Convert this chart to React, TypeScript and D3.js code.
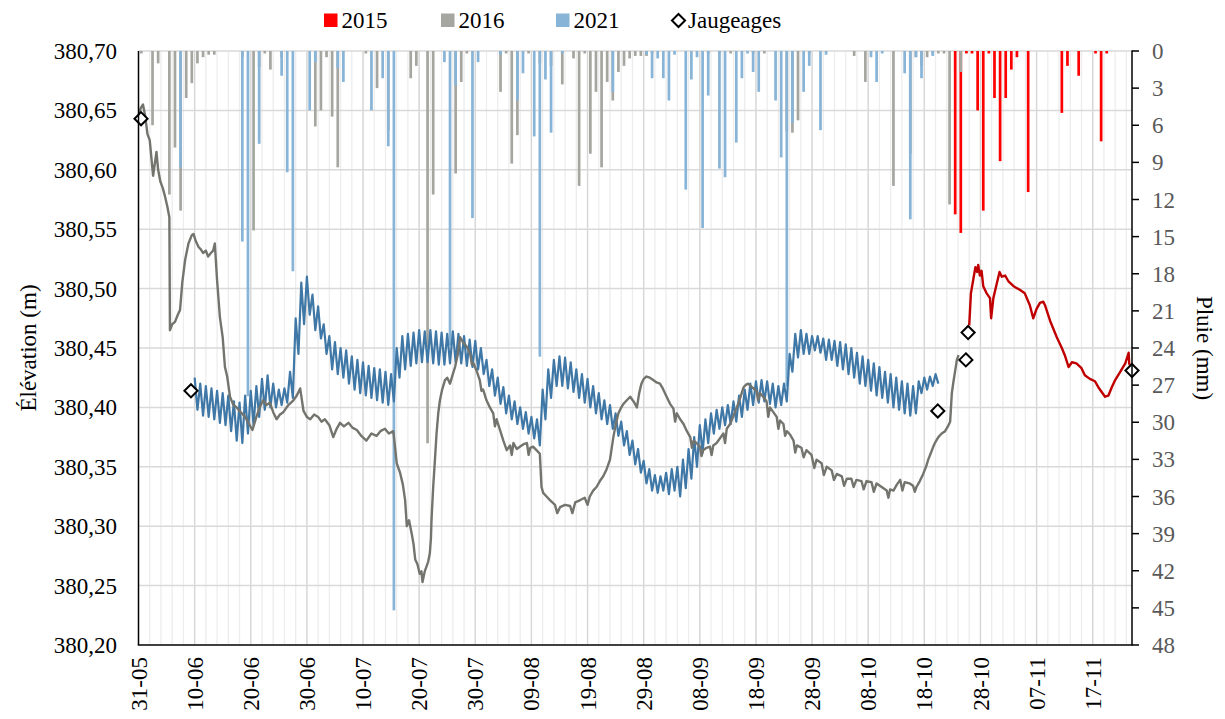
import React, { useEffect, useRef } from 'react';
import * as d3 from 'd3';

const W = 1225;
const H = 719;
const FONT = "'Liberation Serif', 'Times New Roman', serif";

// x axis = days since 31-05
const dayTicks = [0, 10, 20, 30, 40, 50, 60, 70, 80, 90, 100, 110, 120, 130, 140, 150, 160, 170];
const tickLabels = ['31-05', '10-06', '20-06', '30-06', '10-07', '20-07', '30-07', '09-08', '19-08',
  '29-08', '08-09', '18-09', '28-09', '08-10', '18-10', '28-10', '07-11', '17-11'];
const elevTicks = [380.2, 380.25, 380.3, 380.35, 380.4, 380.45, 380.5, 380.55, 380.6, 380.65, 380.7];
const rainTicks = [0, 3, 6, 9, 12, 15, 18, 21, 24, 27, 30, 33, 36, 39, 42, 45, 48];

// daily rain [day, mm]
const rain2015: [number, number][] = [
  [145, 13.2], [146, 14.7], [147, 0.2], [148, 0.2], [149, 4.8], [150, 12.9], [151, 0.2], [152, 3.8],
  [153, 8.9], [154, 3.8], [155, 1.5], [156, 0.5], [158, 11.4], [164, 5.0], [165, 1.2], [167, 2.0],
  [170, 0.2], [171, 7.3], [172, 0.2],
];
const rain2016: [number, number][] = [
  [0, 0.2], [2, 6.0], [3, 1.0], [5, 11.6], [6, 7.8], [7, 12.9], [8, 3.8], [9, 2.6], [10, 1.0], [11, 0.5],
  [12, 0.3], [13, 0.3], [18, 0.5], [20, 14.5], [21, 1.3], [22, 0.2], [23, 1.5], [25, 0.5],
  [31, 6.1], [32, 4.8], [33, 0.5], [34, 5.3], [35, 9.4], [40, 0.2], [42, 3.0], [44, 6.4], [48, 2.2],
  [49, 1.2], [51, 31.7], [52, 11.6], [56, 9.9], [57, 2.5], [58, 0.2], [64, 3.3], [65, 0.2], [66, 9.1],
  [67, 6.8], [69, 0.2], [71, 1.0], [73, 1.2], [75, 2.7], [77, 0.6], [78, 10.9], [79, 0.2], [80, 8.3],
  [81, 3.3], [82, 9.4], [83, 2.5], [84, 4.0], [85, 1.7], [86, 1.2], [87, 0.6], [88, 0.4], [89, 0.4],
  [90, 0.4], [91, 0.2], [101, 0.2], [103, 0.2], [105, 0.2], [109, 0.2], [111, 0.2], [115, 6.5],
  [116, 6.6], [117, 5.6], [119, 0.2], [127, 0.4], [129, 2.5], [134, 10.9], [137, 8.3], [138, 0.5],
  [139, 1.2], [140, 0.5], [141, 0.2], [142, 0.2], [143, 0.2], [144, 12.4], [146, 1.7],
];
const rain2021: [number, number][] = [
  [7, 9.4], [18, 15.4], [19, 27.9], [21, 7.5], [25, 2.0], [26, 9.8], [27, 17.8], [30, 4.8], [31, 0.9],
  [35, 1.4], [36, 2.5], [41, 4.8], [43, 2.2], [44, 7.7], [45, 45.2], [54, 0.9], [55, 23.8], [56, 2.8],
  [59, 13.5], [60, 0.9], [64, 0.3], [67, 4.0], [68, 1.8], [70, 6.9], [71, 24.7], [72, 2.3], [73, 6.6],
  [75, 0.2], [84, 3.3], [90, 0.3], [91, 2.2], [92, 0.6], [93, 2.2], [94, 4.0], [95, 0.3], [97, 11.2],
  [98, 2.3], [99, 0.5], [100, 14.3], [101, 3.6], [103, 9.5], [104, 10.2], [106, 7.4], [107, 2.2],
  [108, 0.2], [109, 1.7], [110, 3.3], [113, 4.0], [114, 8.6], [115, 27.1], [116, 5.8], [118, 3.3],
  [119, 1.2], [121, 6.4], [122, 0.3], [130, 0.5], [131, 2.5], [132, 0.2], [136, 1.8], [137, 13.6],
  [138, 0.5], [139, 2.2], [141, 0.4],
];

// water level 2016 [day, m]
const level2016: [number, number][] = [
  [0.0, 380.645], [0.4, 380.652], [0.8, 380.655], [1.2, 380.645], [1.6, 380.63], [2.0, 380.625],
  [2.3, 380.61], [2.6, 380.595], [2.9, 380.605], [3.2, 380.615], [3.5, 380.6], [3.9, 380.59],
  [4.3, 380.585], [4.7, 380.578], [5.1, 380.57], [5.5, 380.56], [5.6, 380.465], [6.0, 380.47],
  [6.5, 380.472], [7.0, 380.478], [7.4, 380.482], [7.8, 380.505], [8.3, 380.524], [8.9, 380.538],
  [9.5, 380.545], [9.8, 380.546], [10.2, 380.54], [10.7, 380.535], [11.1, 380.533], [11.5, 380.53],
  [12.0, 380.532], [12.4, 380.527], [12.9, 380.53], [13.3, 380.532], [13.6, 380.538], [14.0, 380.507],
  [14.5, 380.476], [15.0, 380.459], [15.4, 380.434], [15.8, 380.426], [16.3, 380.409], [16.9, 380.402],
  [17.5, 380.4], [18.2, 380.396], [19.0, 380.392], [19.7, 380.386], [20.3, 380.381], [21.0, 380.392],
  [21.6, 380.4], [22.2, 380.406], [22.8, 380.402], [23.4, 380.404], [24.0, 380.396], [24.6, 380.39],
  [25.2, 380.394], [25.8, 380.396], [26.7, 380.402], [27.6, 380.406], [28.2, 380.41], [28.8, 380.416],
  [29.4, 380.397], [30.0, 380.392], [30.6, 380.39], [31.3, 380.394], [32.0, 380.392], [32.6, 380.388],
  [33.2, 380.39], [34.0, 380.385], [34.7, 380.375], [35.3, 380.382], [35.9, 380.387], [36.6, 380.384],
  [37.4, 380.387], [38.1, 380.383], [38.9, 380.381], [39.7, 380.376], [40.6, 380.372], [41.5, 380.378],
  [42.4, 380.376], [43.1, 380.38], [43.9, 380.382], [44.6, 380.378], [45.4, 380.38], [46.0, 380.353],
  [46.6, 380.345], [47.1, 380.335], [47.5, 380.322], [47.8, 380.3], [48.2, 380.305], [48.7, 380.293],
  [49.0, 380.285], [49.3, 380.272], [49.7, 380.268], [50.1, 380.26], [50.4, 380.262], [50.6, 380.253],
  [51.0, 380.262], [51.3, 380.266], [51.6, 380.27], [51.9, 380.277], [52.1, 380.29], [52.2, 380.305],
  [52.5, 380.333], [52.8, 380.355], [53.1, 380.378], [53.4, 380.395], [53.7, 380.406], [54.1, 380.415],
  [54.6, 380.423], [55.0, 380.425], [55.5, 380.42], [56.0, 380.428], [56.4, 380.434], [56.9, 380.445],
  [57.3, 380.459], [57.8, 380.455], [58.5, 380.451], [59.1, 380.445], [59.7, 380.437], [60.3, 380.43],
  [60.8, 380.423], [61.4, 380.415], [62.0, 380.406], [62.6, 380.4], [63.2, 380.395], [63.8, 380.39],
  [64.4, 380.381], [65.0, 380.372], [65.6, 380.364], [66.2, 380.368], [66.8, 380.37], [67.4, 380.365],
  [68.0, 380.367], [68.6, 380.369], [69.2, 380.37], [69.8, 380.366], [70.3, 380.367], [70.9, 380.364],
  [71.5, 380.361], [71.8, 380.333], [72.1, 380.328], [72.7, 380.325], [73.3, 380.322], [74.2, 380.318],
  [75.1, 380.316], [76.0, 380.318], [76.9, 380.317], [77.8, 380.32], [78.7, 380.322], [79.5, 380.324],
  [80.4, 380.325], [81.0, 380.33], [81.6, 380.333], [82.2, 380.338], [82.8, 380.342], [83.4, 380.348],
  [84.0, 380.356], [84.6, 380.375], [85.0, 380.385], [85.5, 380.395], [86.0, 380.4], [86.4, 380.403],
  [87.0, 380.406], [87.6, 380.409], [88.2, 380.405], [88.8, 380.4], [89.2, 380.412], [89.6, 380.42],
  [90.0, 380.424], [90.5, 380.426], [91.1, 380.425], [91.7, 380.423], [92.3, 380.421], [92.9, 380.42],
  [93.4, 380.416], [93.8, 380.412], [94.2, 380.408], [94.7, 380.403], [95.3, 380.399], [95.9, 380.395],
  [96.5, 380.39], [97.1, 380.386], [97.7, 380.38], [98.3, 380.375], [98.9, 380.372], [99.4, 380.37],
  [100.0, 380.367], [100.6, 380.364], [101.2, 380.366], [101.8, 380.367], [102.4, 380.368], [103.0, 380.37],
  [103.6, 380.374], [104.2, 380.378], [104.8, 380.382], [105.4, 380.386], [106.0, 380.393], [106.6, 380.4],
  [107.2, 380.408], [107.8, 380.417], [108.2, 380.419], [108.6, 380.42], [109.3, 380.417], [110.1, 380.414],
  [110.7, 380.412], [111.3, 380.409], [111.9, 380.405], [112.5, 380.4], [113.1, 380.396], [113.7, 380.392],
  [114.3, 380.389], [114.9, 380.386], [115.5, 380.38], [116.1, 380.377], [116.7, 380.372], [117.3, 380.368],
  [118.1, 380.366], [119.0, 380.364], [119.9, 380.36], [120.8, 380.356], [121.7, 380.353], [122.6, 380.35],
  [123.5, 380.347], [124.4, 380.344], [125.3, 380.342], [126.2, 380.34], [127.0, 380.34], [127.9, 380.339],
  [128.8, 380.338], [129.7, 380.338], [130.6, 380.337], [131.5, 380.336], [132.4, 380.333], [133.3, 380.33],
  [133.9, 380.331], [134.5, 380.33], [135.1, 380.335], [135.7, 380.339], [136.5, 380.337], [137.4, 380.336],
  [138.0, 380.334], [138.6, 380.333], [139.2, 380.338], [139.8, 380.344], [140.3, 380.35], [140.7, 380.356],
  [141.2, 380.362], [141.6, 380.367], [142.0, 380.371], [142.5, 380.375], [143.1, 380.378], [143.7, 380.38],
  [144.2, 380.384], [144.6, 380.388], [144.9, 380.412], [145.2, 380.422], [145.5, 380.431], [145.8, 380.44],
  [146.1, 380.444],
];
// short downward spikes seen on the 2016 trace
const level2016Dips: [number, number][] = [
  [59.4, 380.436], [61.1, 380.414], [63.5, 380.384], [66.5, 380.36], [69.5, 380.36], [74.6, 380.311],
  [77.3, 380.311], [80.0, 380.318], [95.6, 380.388], [98.6, 380.366], [100.3, 380.359], [102.1, 380.36],
  [104.5, 380.37], [110.4, 380.406], [112.2, 380.392], [114.0, 380.382], [115.2, 380.376],
  [117.0, 380.362], [118.5, 380.358], [120.4, 380.349], [122.1, 380.343], [123.9, 380.339],
  [125.7, 380.334], [127.4, 380.333], [129.2, 380.331], [131.0, 380.329], [133.6, 380.324],
  [136.1, 380.33], [138.3, 380.329],
];

// water level 2021: daily high / low, from day 10
const level2021Start = 10;
const level2021High = [
  380.425, 380.42, 380.418, 380.416, 380.414, 380.412, 380.41, 380.405, 380.404, 380.41,
  380.414, 380.418, 380.424, 380.427, 380.42, 380.415, 380.416, 380.43, 380.475, 380.505,
  380.51, 380.495, 380.485, 380.47, 380.46, 380.455, 380.45, 380.448, 380.443, 380.44,
  380.438, 380.435, 380.433, 380.432, 380.43, 380.428, 380.45, 380.46, 380.462, 380.463,
  380.465, 380.464, 380.465, 380.464, 380.463, 380.462, 380.464, 380.462, 380.46, 380.457,
  380.456, 380.45, 380.44, 380.432, 380.425, 380.417, 380.41, 380.405, 380.4, 380.396,
  380.392, 380.39, 380.415, 380.432, 380.44, 380.443, 380.442, 380.438, 380.432, 380.428,
  380.424, 380.418, 380.412, 380.406, 380.402, 380.395, 380.388, 380.38, 380.372, 380.365,
  380.355, 380.348, 380.343, 380.342, 380.345, 380.348, 380.35, 380.356, 380.365, 380.375,
  380.385, 380.39, 380.395, 380.398, 380.4, 380.402, 380.405, 380.41, 380.415, 380.42,
  380.422, 380.423, 380.422, 380.42, 380.418, 380.42, 380.445, 380.462, 380.465, 380.462,
  380.46, 380.46, 380.458, 380.457, 380.456, 380.455, 380.453, 380.45, 380.446, 380.443,
  380.44, 380.437, 380.434, 380.43, 380.428, 380.425, 380.422, 380.42, 380.418, 380.422,
  380.425, 380.426, 380.428,
];
const level2021Low = [
  380.398, 380.393, 380.392, 380.39, 380.387, 380.385, 380.38, 380.372, 380.37, 380.378,
  380.385, 380.392, 380.398, 380.4, 380.4, 380.402, 380.404, 380.408, 380.445, 380.47,
  380.478, 380.465, 380.458, 380.445, 380.432, 380.428, 380.425, 380.42, 380.415, 380.412,
  380.41, 380.408, 380.406, 380.404, 380.402, 380.405, 380.425, 380.432, 380.435, 380.437,
  380.438, 380.438, 380.437, 380.436, 380.436, 380.437, 380.438, 380.437, 380.435, 380.434,
  380.432, 380.428, 380.418, 380.41, 380.403, 380.395, 380.39, 380.386, 380.382, 380.378,
  380.374, 380.368, 380.39, 380.408, 380.418, 380.418, 380.416, 380.413, 380.408, 380.404,
  380.4, 380.395, 380.39, 380.386, 380.382, 380.376, 380.368, 380.36, 380.352, 380.345,
  380.336, 380.33, 380.328, 380.33, 380.327, 380.33, 380.325, 380.332, 380.34, 380.35,
  380.362, 380.37, 380.378, 380.382, 380.385, 380.386, 380.388, 380.392, 380.398, 380.402,
  380.404, 380.405, 380.403, 380.4, 380.402, 380.405, 380.43, 380.442, 380.445, 380.445,
  380.448, 380.446, 380.44, 380.44, 380.435, 380.432, 380.428, 380.425, 380.42, 380.418,
  380.414, 380.41, 380.408, 380.404, 380.4, 380.398, 380.395, 380.393, 380.395, 380.412,
  380.415, 380.418, 380.42,
];

// water level 2015 [day, m]
const level2015: [number, number][] = [
  [148.0, 380.469], [148.3, 380.496], [148.7, 380.507], [149.1, 380.518], [149.4, 380.514],
  [149.6, 380.52], [149.9, 380.511], [150.2, 380.515], [150.5, 380.502], [151.1, 380.496],
  [151.7, 380.492], [151.9, 380.475], [152.3, 380.492], [152.9, 380.504], [153.4, 380.514],
  [153.8, 380.51], [154.4, 380.511], [155.0, 380.506], [155.9, 380.502], [157.0, 380.499],
  [157.9, 380.496], [158.8, 380.486], [159.4, 380.475], [160.0, 380.483], [160.6, 380.488],
  [161.2, 380.489], [161.5, 380.486], [162.4, 380.473], [163.6, 380.459], [164.5, 380.45],
  [165.1, 380.443], [165.7, 380.434], [166.3, 380.438], [167.1, 380.437], [168.0, 380.433],
  [168.6, 380.427], [169.5, 380.424], [170.4, 380.422], [171.0, 380.417], [171.6, 380.413],
  [172.2, 380.409], [172.8, 380.41], [173.4, 380.417], [174.0, 380.423], [174.9, 380.43],
  [175.8, 380.437], [176.4, 380.446], [176.5, 380.437], [176.9, 380.433],
];

// gaugings [day, m]
const jaugeages: [number, number][] = [
  [0.45, 380.643], [9.35, 380.414], [142.4, 380.397], [147.4, 380.44], [147.8, 380.463], [177.0, 380.431],
];

const C2015Bar = '#ff0000';
const C2016Bar = '#a6a6a0';
const C2021Bar = '#87b4d7';
const C2015Line = '#c00000';
const C2016Line = '#74746e';
const C2021Line = '#3f78a6';

const App = () => {
  const svgRef = useRef<SVGSVGElement>(null);

  useEffect(() => {
    const svg = d3.select(svgRef.current);
    svg.selectAll('*').remove();

    const left = 138.5, right = 1132, top = 51, bottom = 645;

    const x = d3.scaleLinear().domain([0, 177]).range([left, right]);
    const yElev = d3.scaleLinear().domain([380.2, 380.7]).range([bottom, top]);
    const yRain = d3.scaleLinear().domain([0, 48]).range([top, bottom]);

    svg.append('rect').attr('width', W).attr('height', H).attr('fill', '#fff');

    // vertical grid: minor every 2 days, major every 10
    const minor = d3.range(2, 177, 2);
    svg.append('g').selectAll('line').data(minor).join('line')
      .attr('x1', d => x(d)).attr('x2', d => x(d))
      .attr('y1', top).attr('y2', bottom)
      .attr('stroke', '#ededed').attr('stroke-width', 1.3);
    svg.append('g').selectAll('line').data(dayTicks.slice(1)).join('line')
      .attr('x1', d => x(d)).attr('x2', d => x(d))
      .attr('y1', top).attr('y2', bottom)
      .attr('stroke', '#d6d6d6').attr('stroke-width', 1.3);

    // horizontal grid
    svg.append('g').selectAll('line').data(elevTicks.slice(1)).join('line')
      .attr('x1', left).attr('x2', right)
      .attr('y1', d => yElev(d)).attr('y2', d => yElev(d))
      .attr('stroke', '#d9d9d9').attr('stroke-width', 1.5);

    // rain bars hanging from the top
    const barW = 2.7;
    const drawBars = (data: [number, number][], color: string) => {
      svg.append('g').selectAll('rect').data(data).join('rect')
        .attr('x', d => x(d[0] + 0.5) - barW / 2)
        .attr('y', yRain(0))
        .attr('width', barW)
        .attr('height', d => yRain(d[1]) - yRain(0))
        .attr('fill', color);
    };
    drawBars(rain2015, C2015Bar);
    drawBars(rain2016, C2016Bar);
    drawBars(rain2021, C2021Bar);

    // water levels
    const line = d3.line<[number, number]>()
      .x(d => x(d[0]))
      .y(d => yElev(d[1]));

    const pts2021: [number, number][] = [];
    level2021High.forEach((h, i) => {
      const day = level2021Start + i;
      pts2021.push([day, h]);
      pts2021.push([day + 0.5, level2021Low[i]]);
    });
    const pts2016 = [...level2016, ...level2016Dips].sort((a, b) => a[0] - b[0]);

    svg.append('path').datum(pts2021).attr('d', line)
      .attr('fill', 'none').attr('stroke', C2021Line).attr('stroke-width', 2.2)
      .attr('stroke-linejoin', 'round');
    svg.append('path').datum(pts2016).attr('d', line)
      .attr('fill', 'none').attr('stroke', C2016Line).attr('stroke-width', 2.4)
      .attr('stroke-linejoin', 'round');
    svg.append('path').datum(level2015).attr('d', line)
      .attr('fill', 'none').attr('stroke', C2015Line).attr('stroke-width', 2.4)
      .attr('stroke-linejoin', 'round');

    // gaugings
    const diamond = d3.symbol().type(d3.symbolDiamond2).size(110);
    svg.append('g').selectAll('path').data(jaugeages).join('path')
      .attr('d', diamond)
      .attr('transform', d => `translate(${x(d[0])},${yElev(d[1])})`)
      .attr('fill', '#fff').attr('stroke', '#000').attr('stroke-width', 2);

    // axes lines
    svg.append('line').attr('x1', left).attr('x2', left).attr('y1', top).attr('y2', bottom)
      .attr('stroke', '#000').attr('stroke-width', 1.5);
    svg.append('line').attr('x1', right).attr('x2', right).attr('y1', top - 0.5).attr('y2', bottom)
      .attr('stroke', '#000').attr('stroke-width', 1.5);
    svg.append('line').attr('x1', left - 0.75).attr('x2', right + 0.75).attr('y1', bottom).attr('y2', bottom)
      .attr('stroke', '#000').attr('stroke-width', 1.5);

    const fmt = d3.format('.2f');

    // left labels
    svg.append('g').selectAll('text').data(elevTicks).join('text')
      .attr('x', 117).attr('y', d => yElev(d)).attr('dy', '0.35em')
      .attr('text-anchor', 'end')
      .style('font-family', FONT).style('font-size', '23px').attr('fill', '#000')
      .text(d => fmt(d).replace('.', ','));

    // right ticks and labels
    svg.append('g').selectAll('line').data(rainTicks).join('line')
      .attr('x1', right).attr('x2', right + 7)
      .attr('y1', d => yRain(d)).attr('y2', d => yRain(d))
      .attr('stroke', '#000').attr('stroke-width', 1.5);
    svg.append('g').selectAll('text').data(rainTicks).join('text')
      .attr('x', 1152).attr('y', d => yRain(d)).attr('dy', '0.35em')
      .style('font-family', FONT).style('font-size', '23px').attr('fill', '#595959')
      .text(d => String(d));

    // bottom labels
    svg.append('g').selectAll('text').data(dayTicks).join('text')
      .attr('transform', d => `translate(${x(d)},657) rotate(-90)`)
      .attr('dy', '0.35em')
      .attr('text-anchor', 'end')
      .style('font-family', FONT).style('font-size', '23px').attr('fill', '#000')
      .text((d, i) => tickLabels[i]);

    // axis titles
    svg.append('text')
      .attr('transform', `translate(36,${(top + bottom) / 2}) rotate(-90)`)
      .attr('text-anchor', 'middle')
      .style('font-family', FONT).style('font-size', '23px').attr('fill', '#000')
      .text('Élévation (m)');
    svg.append('text')
      .attr('transform', `translate(1197,${(top + bottom) / 2}) rotate(90)`)
      .attr('text-anchor', 'middle')
      .style('font-family', FONT).style('font-size', '23px').attr('fill', '#000')
      .text('Pluie (mm)');

    // legend
    const legend = [
      { label: '2015', color: C2015Bar, x: 324 },
      { label: '2016', color: C2016Bar, x: 441 },
      { label: '2021', color: C2021Bar, x: 556 },
    ];
    const lg = svg.append('g');
    legend.forEach(l => {
      lg.append('rect').attr('x', l.x).attr('y', 13.5).attr('width', 13.5).attr('height', 13.5).attr('fill', l.color);
      lg.append('text').attr('x', l.x + 17.5).attr('y', 28)
        .style('font-family', FONT).style('font-size', '23px').attr('fill', '#000')
        .text(l.label);
    });
    lg.append('path').attr('d', diamond)
      .attr('transform', 'translate(678.5,20.5)')
      .attr('fill', '#fff').attr('stroke', '#000').attr('stroke-width', 2);
    lg.append('text').attr('x', 688).attr('y', 28)
      .style('font-family', FONT).style('font-size', '23px').attr('fill', '#000')
      .text('Jaugeages');
  }, []);

  return (
    <svg ref={svgRef} width={W} height={H}
      style={{ position: 'absolute', left: 0, top: 0, display: 'block' }} />
  );
};

export default App;
